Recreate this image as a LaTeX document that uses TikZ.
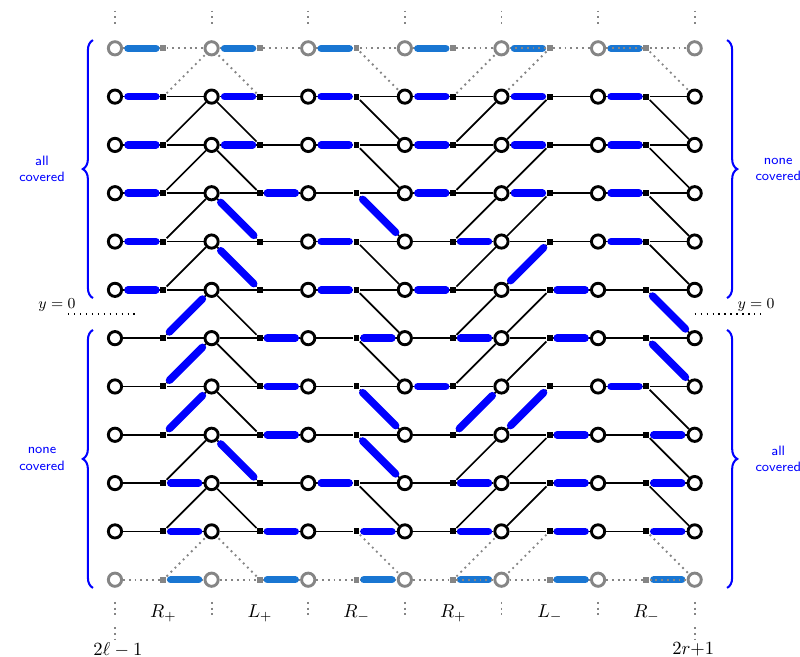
\documentclass[tikz,border=0pt]{standalone}
\usepackage{tikz}
\usetikzlibrary{decorations.pathreplacing, calc}
\definecolor{cvBlue}{HTML}{0000FF}
\definecolor{cvLight}{HTML}{1976D2}
\definecolor{cvGrey}{HTML}{858585}
\tikzset{
  % sites (circles), junctions (squares) and the links between them
  site/.style          = {circle, draw=black, fill=white, line width=1.7pt, minimum size=7.8pt, inner sep=0pt},
  faintsite/.style     = {site, draw=cvGrey},
  junction/.style      = {rectangle, fill=black, minimum size=3.5pt, inner sep=0pt},
  faintjunction/.style = {junction, fill=cvGrey},
  link/.style          = {black, line width=1pt},
  faint/.style         = {cvGrey, line width=1.1pt, dash pattern=on 1.1pt off 2.3pt},
  zeroline/.style      = {black, line width=0.8pt, dash pattern=on 0.8pt off 2.7pt},
  cover/.style         = {line width=4.4pt, line cap=round, shorten <=2.4pt, shorten >=2.9pt},
  covbrace/.style      = {decorate, decoration={brace, amplitude=6pt}, cvBlue, line width=1.2pt},
  covlbl/.style        = {font=\footnotesize\sffamily, text=cvBlue, align=center},
  seglbl/.style        = {font=\fontsize{11}{13}\selectfont},
}

\begin{document}
\begin{tikzpicture}[x=1cm,y=1cm]
  \useasboundingbox (-2.38,-7.10) rectangle (14.18,6.50);
  % --- sites and junctions ------------------------------------------------
  \foreach \i in {0,...,6} {
    \foreach \row in {1,...,10} \node[site] (c-\i-\row) at (2*\i, 5.5-\row) {};
    \foreach \row in {0,11} \node[faintsite] (c-\i-\row) at (2*\i, 5.5-\row) {};
  }
  \foreach \seg in {0,...,5} {
    \foreach \row in {1,...,10} \node[junction] (s-\seg-\row) at (2*\seg+1, 5.5-\row) {};
    \foreach \row in {0,11} \node[faintjunction] (s-\seg-\row) at (2*\seg+1, 5.5-\row) {};
  }
  % --- links: side 1 = slant to the right site, dir -1 = one row up --------
  \foreach \seg/\side/\dir in {0/1/-1, 1/0/-1, 2/1/1, 3/1/-1, 4/0/1, 5/1/1} {
    \pgfmathtruncatemacro\nxt{\seg+1}
    \pgfmathtruncatemacro\tcol{\seg+\side}
    \foreach \row in {0,...,11} {
      \pgfmathtruncatemacro\trow{\row+\dir}
      \pgfmathtruncatemacro\rim{or(\row==0,\row==11)}
      \ifnum\rim=1
        \draw[faint] (c-\seg-\row) -- (s-\seg-\row) -- (c-\nxt-\row);
      \else
        \draw[link] (c-\seg-\row) -- (s-\seg-\row) -- (c-\nxt-\row);
      \fi
      \ifnum\trow>-1 \ifnum\trow<12
        \pgfmathtruncatemacro\rim{or(\rim==1,or(\trow==0,\trow==11))}
        \ifnum\rim=1 \draw[faint] (s-\seg-\row) -- (c-\tcol-\trow);
        \else \draw[link] (s-\seg-\row) -- (c-\tcol-\trow); \fi
      \fi\fi
    }
  }
  % --- covered links (l = left, r = right, d = slanted) ------------------
  \foreach \seg/\side/\dir/\cov in {
      0/1/-1/{l,l,l,l,l,l,d,d,d,r,r,r},
      1/0/-1/{l,l,l,r,d,d,r,r,r,d,r,r},
      2/1/1/{l,l,l,d,l,l,r,d,d,l,r,r},
      3/1/-1/{l,l,l,l,r,l,r,l,d,r,r,r},
      4/0/1/{l,l,l,l,d,r,r,d,r,r,r,r},
      5/1/1/{l,l,l,l,l,d,d,l,r,r,r,r}} {
    \pgfmathtruncatemacro\nxt{\seg+1}
    \pgfmathtruncatemacro\tcol{\seg+\side}
    \foreach \cv [count=\row from 0] in \cov {
      \pgfmathtruncatemacro\trow{\row+\dir}
      \def\tint{cvBlue}
      \ifnum\row=0 \def\tint{cvLight}\fi
      \ifnum\row=11 \def\tint{cvLight}\fi
      \if\cv l\draw[cover, draw=\tint] (s-\seg-\row) -- (c-\seg-\row);\fi
      \if\cv r\draw[cover, draw=\tint] (s-\seg-\row) -- (c-\nxt-\row);\fi
      \if\cv d\draw[cover, draw=\tint] (s-\seg-\row) -- (c-\tcol-\trow);\fi
    }
  }
  % rim dots that run over their bars
  \draw[faint] (c-4-0) -- (s-4-0);
  \draw[faint] (c-5-0) -- (s-5-0);
  \draw[faint] (s-3-11) -- (c-4-11);
  \draw[faint] (s-5-11) -- (c-6-11);
  % --- continuation dots -------------------------------------------------
  \foreach \i in {0,...,6} {
    \draw[faint] (2*\i,6.28) -- (2*\i,6.0);
    \draw[faint] (2*\i,-5.96) -- (2*\i,-6.24);
  }
  \draw[faint] (0,-6.48) -- (0,-6.76);
  \draw[faint] (12,-6.48) -- (12,-6.76);
  % --- segment and end labels --------------------------------------------
  \foreach \seg/\lab in {0/{R_+}, 1/{L_+}, 2/{R_-}, 3/{R_+}, 4/{L_-}, 5/{R_-}}
    \node[seglbl] (lab-\seg) at (2*\seg+1,-6.19) {$\lab$};
  \node[seglbl] (lend) at (0.06,-6.95) {$2\ell-1$};
  \node[seglbl] (rend) at (11.97,-6.95) {$2r{+}1$};
  % --- the line y = 0 ----------------------------------------------------
  \coordinate (zl0) at (-0.97,0);
  \coordinate (zl1) at (0.41,0);
  \coordinate (zr0) at (12.0,0);
  \coordinate (zr1) at (13.4,0);
  \draw[zeroline] (zl0) -- (zl1);
  \draw[zeroline] (zr0) -- (zr1);
  \node[font=\small] (zeroL) at (-1.20,0.19) {$y=0$};
  \node[font=\small] (zeroR) at (13.27,0.19) {$y=0$};
  % --- braces --------------------------------------------------------------
  \draw[covbrace] (-0.455,0.33) -- (-0.455,5.67);
  \draw[covbrace] (-0.455,-5.67) -- (-0.455,-0.33);
  \draw[covbrace] (12.67,5.67) -- (12.67,0.33);
  \draw[covbrace] (12.67,-0.33) -- (12.67,-5.67);
  \node[covlbl] (allL)  at (-1.51,3.0)  {all\\covered};
  \node[covlbl] (noneL) at (-1.51,-3.0) {none\\covered};
  \node[covlbl] (noneR) at (13.73,3.0)  {none\\covered};
  \node[covlbl] (allR)  at (13.73,-3.0) {all\\covered};
\end{tikzpicture}
\end{document}
